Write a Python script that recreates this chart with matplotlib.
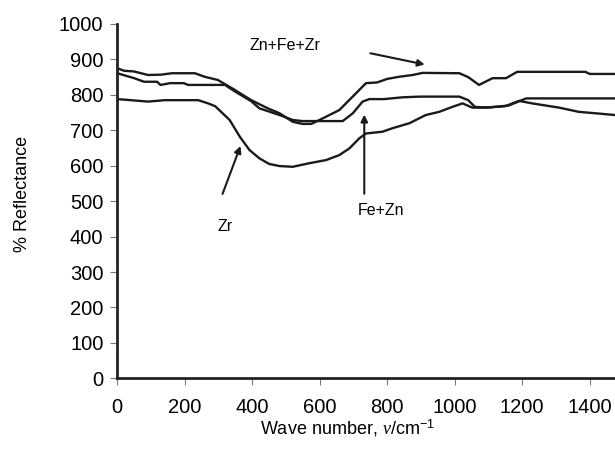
import matplotlib
matplotlib.use("Agg")
import matplotlib.pyplot as plt

plt.rcParams['font.family'] = ['Liberation Sans', 'DejaVu Sans']
plt.rcParams['mathtext.fontset'] = 'custom'
plt.rcParams['mathtext.it'] = 'Liberation Serif:italic'
plt.rcParams['mathtext.rm'] = 'Liberation Sans'

# Zn+Fe+Zr
x_znfezr = [0, 20, 50, 91, 130, 162, 230, 259, 298, 348, 397, 446, 481, 520, 549, 575, 599,
            658, 707, 737, 770, 800, 835, 875, 905, 1014, 1040, 1072, 1112, 1152, 1185,
            1387, 1400, 1475]
y_znfezr = [875, 868, 866, 856, 857, 861, 861, 851, 842, 814, 785, 762, 748, 724, 718, 718, 729,
            757, 804, 833, 835, 845, 851, 856, 862, 861, 850, 828, 847, 847, 865,
            865, 859, 859]

# Fe+Zn
x_fezn = [0, 50, 79, 118, 128, 157, 197, 210, 320, 327, 348, 397, 421, 481, 520, 549, 668,
          698, 727, 747, 790, 845, 895, 1014, 1040, 1060, 1100, 1160, 1212, 1475]
y_fezn = [861, 847, 837, 837, 828, 833, 833, 828, 828, 823, 810, 782, 762, 743, 729, 726, 726,
          748, 781, 788, 788, 793, 795, 795, 785, 766, 764, 770, 790, 790]

# Zr
x_zr = [0, 40, 91, 141, 240, 269, 290, 333, 363, 392, 421, 450, 481, 520, 569, 619, 658, 688,
        717, 737, 786, 816, 866, 914, 954, 990, 1023, 1052, 1085, 1150, 1190, 1229, 1309,
        1368, 1417, 1475]
y_zr = [788, 785, 781, 785, 785, 776, 768, 729, 682, 644, 621, 605, 599, 597, 607, 616, 630, 649,
        677, 691, 696, 706, 720, 743, 752, 765, 776, 764, 764, 768, 783, 776, 764,
        752, 748, 743]

xticks = [0, 200, 400, 600, 800, 1000, 1200, 1400]
yticks = [0, 100, 200, 300, 400, 500, 600, 700, 800, 900, 1000]

fig = plt.figure(figsize=(6.15, 4.5), dpi=100)
ax = fig.add_axes([0.1907, 0.1593, 0.8093, 0.7874])

for xs, ys in [(x_znfezr, y_znfezr), (x_fezn, y_fezn), (x_zr, y_zr)]:
    ax.plot(xs, ys, color='#1a1a1a', lw=1.7)

ax.set_xlim(0, 1475)
ax.set_ylim(0, 1000)
ax.set_xticks(xticks)
ax.set_yticks(yticks)
ax.tick_params(axis='both', labelsize=14.5, length=5, width=0.8, color='#777777', pad=5)
ax.tick_params(axis='x', pad=9)
for s in ['top', 'right']:
    ax.spines[s].set_visible(False)
for s in ['left', 'bottom']:
    ax.spines[s].set_linewidth(2)
    ax.spines[s].set_color('#222222')

ax.set_ylabel('% Reflectance', fontsize=13)
ax.yaxis.set_label_coords(-0.174, 0.52)
ax.set_xlabel(r'Wave number, $\mathit{\nu}$/cm$^{-1}$', fontsize=13)
ax.xaxis.set_label_coords(0.4615, -0.112)

arrow = dict(arrowstyle='-|>', color='#1a1a1a', lw=1.5, mutation_scale=10)
ax.annotate('', xy=(368, 663), xytext=(309, 513), arrowprops=arrow)
ax.text(318, 428, 'Zr', fontsize=11.5, ha='center', va='center')
ax.annotate('', xy=(732, 752), xytext=(732, 513), arrowprops=arrow)
ax.text(781, 475, 'Fe+Zn', fontsize=11.5, ha='center', va='center')
ax.annotate('', xy=(919, 884), xytext=(742, 919), arrowprops=arrow)
ax.text(496, 938, 'Zn+Fe+Zr', fontsize=11.5, ha='center', va='center')

fig.savefig('out.png', dpi=100)
